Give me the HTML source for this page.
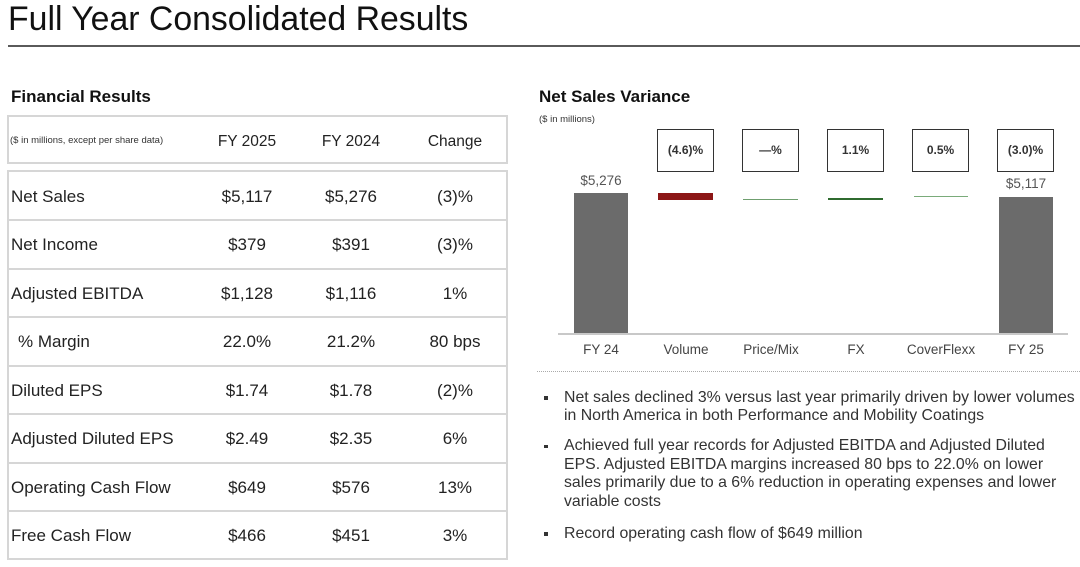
<!DOCTYPE html>
<html><head><meta charset="utf-8">
<style>
*{margin:0;padding:0;box-sizing:border-box}
body{width:1080px;height:567px;background:#fff;position:relative;overflow:hidden;font-family:"Liberation Sans",Arial,sans-serif;color:#222}
.a{position:absolute;white-space:nowrap}
.c{text-align:center}
.row{position:absolute;left:7px;width:501px;height:48.5px;line-height:48.5px;font-size:17px;color:#222}
.row span{position:absolute;white-space:nowrap}
.v1{left:190px;width:100px;text-align:center}
.v2{left:294px;width:100px;text-align:center}
.v3{left:398px;width:100px;text-align:center}
.sep{position:absolute;left:7px;width:501px;height:2px;background:#d6d6d6}
.box{position:absolute;top:129px;width:57px;height:43px;border:1.5px solid #333;font-size:12px;font-weight:bold;color:#333;line-height:40px;text-align:center}
.cat{position:absolute;top:341px;width:100px;text-align:center;font-size:13.5px;color:#444;line-height:18px}
.bul{position:absolute;left:564px;font-size:15.85px;line-height:18.6px;color:#333;white-space:nowrap}
.dot{position:absolute;left:544px;width:3.5px;height:3.5px;background:#333}
</style></head><body>

<div class="a" style="left:8px;top:3px;font-size:33.8px;line-height:33.5px;color:#111">Full Year Consolidated Results</div>
<div class="a" style="left:8px;top:45px;width:1072px;height:2px;background:#5a5a5a"></div>

<!-- Left: Financial Results -->
<div class="a" style="left:11px;top:87px;font-size:17px;line-height:19px;font-weight:bold;color:#111">Financial Results</div>

<div class="a" style="left:7px;top:115px;width:501px;height:49px;border:2px solid #d6d6d6"></div>
<div class="a" style="left:10px;top:132px;font-size:9.5px;line-height:18px;color:#333">($ in millions, except per share data)</div>
<div class="a c" style="left:197px;top:131.5px;width:100px;font-size:15.5px;line-height:20px;color:#222">FY 2025</div>
<div class="a c" style="left:301px;top:131.5px;width:100px;font-size:15.5px;line-height:20px;color:#222">FY 2024</div>
<div class="a c" style="left:405px;top:131.5px;width:100px;font-size:15.5px;line-height:20px;color:#222">Change</div>

<div class="a" style="left:7px;top:170px;width:501px;height:390px;border:2px solid #d6d6d6"></div>
<div class="sep" style="top:219px"></div>
<div class="sep" style="top:267.5px"></div>
<div class="sep" style="top:316px"></div>
<div class="sep" style="top:364.5px"></div>
<div class="sep" style="top:413px"></div>
<div class="sep" style="top:461.5px"></div>
<div class="sep" style="top:510px"></div>

<div class="row" style="top:172.5px"><span style="left:4px">Net Sales</span><span class="v1">$5,117</span><span class="v2">$5,276</span><span class="v3">(3)%</span></div>
<div class="row" style="top:221px"><span style="left:4px">Net Income</span><span class="v1">$379</span><span class="v2">$391</span><span class="v3">(3)%</span></div>
<div class="row" style="top:269.5px"><span style="left:4px">Adjusted EBITDA</span><span class="v1">$1,128</span><span class="v2">$1,116</span><span class="v3">1%</span></div>
<div class="row" style="top:318px"><span style="left:11px">% Margin</span><span class="v1">22.0%</span><span class="v2">21.2%</span><span class="v3">80 bps</span></div>
<div class="row" style="top:366.5px"><span style="left:4px">Diluted EPS</span><span class="v1">$1.74</span><span class="v2">$1.78</span><span class="v3">(2)%</span></div>
<div class="row" style="top:415px"><span style="left:4px">Adjusted Diluted EPS</span><span class="v1">$2.49</span><span class="v2">$2.35</span><span class="v3">6%</span></div>
<div class="row" style="top:463.5px"><span style="left:4px">Operating Cash Flow</span><span class="v1">$649</span><span class="v2">$576</span><span class="v3">13%</span></div>
<div class="row" style="top:512px"><span style="left:4px">Free Cash Flow</span><span class="v1">$466</span><span class="v2">$451</span><span class="v3">3%</span></div>

<!-- Right: Net Sales Variance -->
<div class="a" style="left:539px;top:87px;font-size:17px;line-height:19px;font-weight:bold;color:#111">Net Sales Variance</div>
<div class="a" style="left:539px;top:113px;font-size:9.5px;line-height:13px;color:#333">($ in millions)</div>

<div class="box" style="left:657px">(4.6)%</div>
<div class="box" style="left:742px">—%</div>
<div class="box" style="left:827px">1.1%</div>
<div class="box" style="left:912px">0.5%</div>
<div class="box" style="left:997px">(3.0)%</div>

<div class="a c" style="left:551px;top:173px;width:100px;font-size:13.5px;line-height:16px;color:#555">$5,276</div>
<div class="a c" style="left:976px;top:176px;width:100px;font-size:13.5px;line-height:16px;color:#555">$5,117</div>

<div class="a" style="left:574px;top:193px;width:54px;height:141px;background:#6b6b6b"></div>
<div class="a" style="left:999px;top:197px;width:54px;height:137px;background:#6b6b6b"></div>
<div class="a" style="left:658px;top:193px;width:55px;height:6.5px;background:#8c1616"></div>
<div class="a" style="left:743px;top:199px;width:55px;height:1px;background:#6f9f6f"></div>
<div class="a" style="left:828px;top:197.5px;width:55px;height:2px;background:#2f6b2f"></div>
<div class="a" style="left:914px;top:196px;width:54px;height:1px;background:#7aab7a"></div>

<div class="a" style="left:558px;top:333px;width:510px;height:1.5px;background:#c8c8c8"></div>

<div class="cat" style="left:551px">FY 24</div>
<div class="cat" style="left:636px">Volume</div>
<div class="cat" style="left:721px">Price/Mix</div>
<div class="cat" style="left:806px">FX</div>
<div class="cat" style="left:891px">CoverFlexx</div>
<div class="cat" style="left:976px">FY 25</div>

<div class="a" style="left:537px;top:371px;width:543px;height:0;border-top:1px dotted #aaa"></div>

<div class="dot" style="top:396px"></div>
<div class="bul" style="top:388.5px">Net sales declined 3% versus last year primarily driven by lower volumes<br>in North America in both Performance and Mobility Coatings</div>
<div class="dot" style="top:444.5px"></div>
<div class="bul" style="top:437px">Achieved full year records for Adjusted EBITDA and Adjusted Diluted<br>EPS. Adjusted EBITDA margins increased 80 bps to 22.0% on lower<br>sales primarily due to a 6% reduction in operating expenses and lower<br>variable costs</div>
<div class="dot" style="top:532px"></div>
<div class="bul" style="top:524.5px">Record operating cash flow of $649 million</div>

</body></html>
